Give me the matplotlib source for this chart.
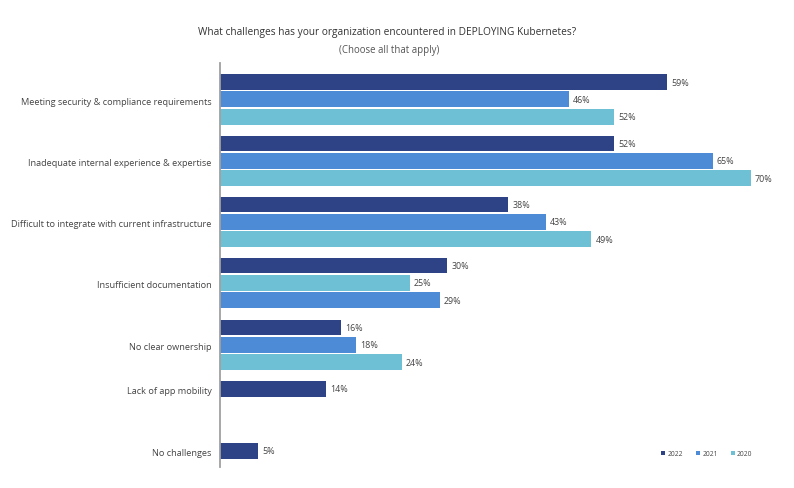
import matplotlib
matplotlib.use("Agg")
import matplotlib.pyplot as plt
from matplotlib.patches import Patch

plt.rcParams["font.family"] = ["Open Sans", "DejaVu Sans"]

# ── Data ──────────────────────────────────────────────────
categories = [
    "Meeting security & compliance requirements",
    "Inadequate internal experience & expertise",
    "Difficult to integrate with current infrastructure",
    "Insufficient documentation",
    "No clear ownership",
    "Lack of app mobility",
    "No challenges",
]
v2022 = [59, 52, 38, 30, 16, 14, 5]
v2021 = [46, 65, 43, 29, 18, None, None]
v2020 = [52, 70, 49, 25, 24, None, None]
# the source chart lists 2020 before 2021 for this row
swapped_rows = ["Insufficient documentation"]

years = ["2022", "2021", "2020"]
COLORS = {"2022": "#2E4286", "2021": "#4E8BD6", "2020": "#6EC0D5"}

# ── Layout (pixel units, y grows downward) ───────────────
GROUP_Y = [99.5, 161, 222, 283, 345, 389, 451]
SLOT = 17.3
BAR_H = 15.8

fig = plt.figure(figsize=(7.94, 4.89), dpi=100)
ax = fig.add_axes([220 / 794, 1 - 468 / 489, 530.6 / 794, 404 / 489])

for i, cat in enumerate(categories):
    series = [("2022", v2022[i]), ("2021", v2021[i]), ("2020", v2020[i])]
    if cat in swapped_rows:
        series = [series[0], series[2], series[1]]
    series = [(y, v) for y, v in series if v is not None]
    n = len(series)
    for k, (yr, val) in enumerate(series):
        yc = GROUP_Y[i] + (k - (n - 1) / 2) * SLOT + 0.8
        ax.barh(yc, val, height=BAR_H, color=COLORS[yr], edgecolor="none")
        ax.text(val + 0.55, yc, f"{val}%", va="center", ha="left",
                fontsize=6.4, color="#444444", clip_on=False)

ax.set_xlim(0, 70)
ax.set_ylim(468, 64)
ax.set_yticks([y + 1.5 for y in GROUP_Y])
ax.set_yticklabels(categories, fontsize=6.6, color="#444444")
ax.tick_params(axis="y", length=0, pad=6)
ax.set_xticks([])
for s in ["top", "right", "bottom"]:
    ax.spines[s].set_visible(False)
ax.spines["left"].set_color("#A0A0A0")
ax.spines["left"].set_linewidth(1.3)

fig.text(387 / 794, 1 - 32 / 489,
         "What challenges has your organization encountered in DEPLOYING Kubernetes?",
         ha="center", va="center", fontsize=7.3, color="#333333")
fig.text(389 / 794, 1 - 50 / 489, "(Choose all that apply)",
         ha="center", va="center", fontsize=6.9, color="#555555")

handles = [Patch(facecolor=COLORS[y], edgecolor="none", label=y) for y in years]
fig.legend(handles=handles, loc="center", bbox_to_anchor=(707 / 794, 1 - 455 / 489),
           ncol=3, frameon=False, fontsize=4.8, handlelength=0.6, handleheight=0.6,
           handletextpad=0.3, columnspacing=2.0, labelcolor="#444444")

fig.savefig("out.png", dpi=100, facecolor="white")
